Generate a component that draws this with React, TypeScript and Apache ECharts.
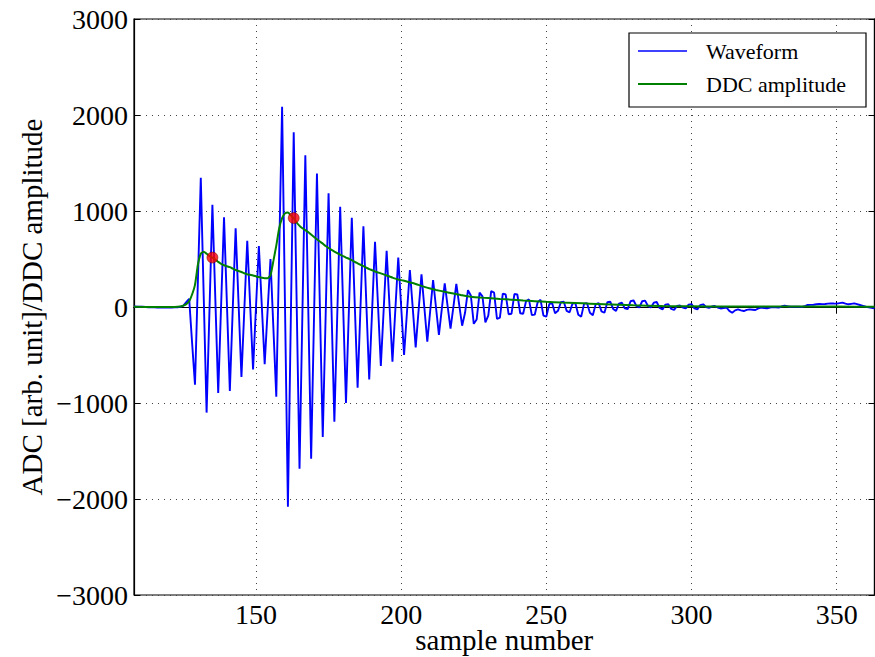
import React, { useEffect, useRef } from "react";
import * as echarts from "echarts";

const START_SAMPLE = 108;
// Waveform: one value per sample, starting at sample 108
const waveformValues: number[] = [
  5, 4, 3, 2, 0, -2, -3, -4, -5, -6, -6, -6, -5, -5, -4, -2, 2, // 108-124
  15, 50, 85, -370, -810, 270, 1345, 120, -1100, -20, // 125-134
  1065, 90, -895, 20, 935, 30, -875, -25, 820, 45, // 135-144
  -730, -20, 690, 20, -650, -5, 635, 20, -595, -45, // 145-154
  500, -220, -935, 575, 2085, 5, -2080, -130, 1820, 70, // 155-164
  -1685, -50, 1580, 0, -1580, -95, 1390, 20, -1355, -85, // 165-174
  1185, -5, -1195, -75, 1045, 25, -1000, -35, 930, 45, // 175-184
  -840, 0, 840, 40, -755, -35, 680, 35, -615, -15, // 185-194
  585, 5, -570, -25, 515, 5, -500, -55, 385, -15, // 195-204
  -420, -35, 340, -10, -360, -40, 280, -5, -290, -20, // 205-214
  245, 10, -225, 5, 240, 20, -195, -60, 175, 120, // 215-224
  -175, -130, 150, 110, -160, -90, 165, 150, -125, -110, // 225-234
  140, 130, -75, -70, 135, 130, -65, -70, 60, 80, // 235-244
  -85, -80, 50, 75, -90, -100, 30, 40, -65, -40, // 245-254
  50, 55, -40, -55, 35, 40, -80, -100, 35, 40, // 255-264
  -60, -85, 30, 40, -45, -60, 50, 55, -20, -40, // 265-274
  35, 45, -15, -22, 60, 70, 10, -5, 60, 66, // 275-284
  10, -5, 45, 52, -10, -25, 25, 30, -20, -30, // 285-294
  10, 15, -5, -15, 25, 30, -15, -25, 20, 28, // 295-304
  0, -8, 5, 10, -5, -15, -12, -5, -40, -60, // 305-314
  -35, -25, -35, -42, -30, -25, -28, -31, -15, -7, // 315-324
  -10, -14, -5, 0, -3, -7, 5, 14, 8, 3, // 325-334
  3, 3, 2, 0, 10, 21, 22, 24, 28, 31, // 335-344
  30, 31, 35, 38, 36, 35, 40, 45, 35, 28, // 345-354
  33, 38, 30, 21, 12, 3, -3, -8, -14, // 355-363
];

const ddcSamples: number[] = [
  108, 115, 122, 124, 125, 126, 127, 128, 129, 130, 131, 132, 133, 134, 135, 136, 137, 138, 139, 140,
  141, 142, 143, 144, 145, 146, 147, 148, 149, 150, 151, 152, 153, 154, 155, 156, 157, 158, 159, 160,
  161, 162, 163, 164, 165, 166, 167, 168, 169, 170, 171, 172, 173, 174, 175, 176, 177, 178, 179, 180,
  181, 182, 183, 184, 185, 186, 187, 188, 189, 190, 191, 192, 193, 194, 195, 196, 197, 198, 199, 200,
  202, 204, 206, 208, 210, 212, 215, 218, 221, 224, 227, 230, 234, 238, 242, 246, 250, 255, 260, 265,
  270, 275, 280, 290, 300, 310, 320, 330, 340, 350, 363,
];
const ddcValues: number[] = [
  2, 0, 0, 5, 15, 30, 60, 130, 230, 440, 555, 575, 555, 530, 515, 495, 470, 450, 435, 425,
  415, 400, 385, 375, 365, 352, 342, 335, 328, 320, 312, 305, 300, 300, 330, 480, 640, 820, 925, 975,
  985, 955, 925, 880, 845, 820, 800, 780, 755, 730, 705, 682, 660, 635, 615, 595, 578, 560, 545, 530,
  515, 502, 488, 470, 455, 440, 425, 410, 395, 383, 370, 360, 350, 340, 328, 318, 306, 296, 287, 280,
  265, 250, 230, 210, 192, 178, 158, 140, 122, 107, 98, 93, 84, 76, 68, 61, 54, 47, 41, 35,
  29, 23, 17, 10, 7, 5, 5, 4, 4, 4, 2,
];

const markerSamples: number[] = [135, 163];
const markerValues: number[] = [515, 926];

const yTicks: number[] = [-3000, -2000, -1000, 0, 1000, 2000, 3000];

const SERIF = '"Liberation Serif", "DejaVu Serif", serif';

export default function App() {
  const ref = useRef<HTMLDivElement>(null);

  useEffect(() => {
    if (!ref.current) return;
    const chart = echarts.init(ref.current, null, { renderer: "svg" });
    const waveData = waveformValues.map((v, i) => [START_SAMPLE + i, v]);
    const ddcData = ddcSamples.map((s, i) => [s, ddcValues[i]]);
    const markerData = markerSamples.map((s, i) => [s, markerValues[i]]);
    const fmt = (v: number) => String(v).replace("-", "\u2212");

    const gridLine = { show: true, lineStyle: { color: "#444", type: [1, 5] as any, width: 1 } };
    const tick = { show: true, inside: true, length: 6, lineStyle: { color: "#000", width: 1 } };

    chart.setOption({
      animation: false,
      backgroundColor: "#fff",
      grid: {
        left: 134,
        right: 0.5,
        top: 19,
        bottom: 62,
        containLabel: false,
        outerBoundsMode: "none",
        show: true,
        borderColor: "#000",
        borderWidth: 1.2,
        backgroundColor: "transparent",
      },
      xAxis: [
        {
          type: "value",
          min: 108,
          max: 363,
          splitNumber: 5,
          position: "bottom",
          name: "sample number",
          nameLocation: "middle",
          nameGap: 30,
          nameMoveOverlap: false,
          nameTextStyle: { fontFamily: SERIF, fontSize: 29, lineHeight: 29, color: "#000" },
          axisLine: { show: true, lineStyle: { color: "#000", width: 1.2 } },
          axisTick: tick,
          axisLabel: {
            fontFamily: SERIF,
            fontSize: 28,
            lineHeight: 22,
            color: "#000",
            margin: 8,
            showMinLabel: false,
            showMaxLabel: false,
            formatter: (v: number) => (v % 50 === 0 ? fmt(v) : ""),
          },
          splitLine: gridLine,
        },
        {
          type: "value",
          min: 108,
          max: 363,
          splitNumber: 5,
          position: "top",
          axisLine: { show: true, lineStyle: { color: "#000", width: 1.2 } },
          axisTick: tick,
          axisLabel: { show: false },
          splitLine: { show: false },
        },
      ],
      yAxis: [
        {
          type: "value",
          min: yTicks[0],
          max: yTicks[yTicks.length - 1],
          interval: 1000,
          position: "left",
          name: "ADC [arb. unit]/DDC amplitude",
          nameLocation: "middle",
          nameGap: 88,
          nameMoveOverlap: false,
          nameTextStyle: { fontFamily: SERIF, fontSize: 29, color: "#000" },
          axisLine: { show: true, lineStyle: { color: "#000", width: 1.2 } },
          axisTick: tick,
          axisLabel: { fontFamily: SERIF, fontSize: 28, color: "#000", margin: 6, formatter: fmt },
          splitLine: gridLine,
        },
        {
          type: "value",
          min: yTicks[0],
          max: yTicks[yTicks.length - 1],
          interval: 1000,
          position: "right",
          axisLine: { show: true, lineStyle: { color: "#000", width: 1.2 } },
          axisTick: tick,
          axisLabel: { show: false },
          splitLine: { show: false },
        },
      ],
      series: [
        {
          name: "Waveform",
          type: "line",
          data: waveData,
          showSymbol: false,
          symbol: "none",
          lineStyle: { color: "#0000ff", width: 1.9 },
          z: 2,
        },
        {
          name: "DDC amplitude",
          type: "line",
          data: ddcData,
          showSymbol: false,
          symbol: "none",
          smooth: 0.2,
          lineStyle: { color: "#008000", width: 2 },
          z: 3,
        },
        {
          name: "markers",
          type: "scatter",
          data: markerData,
          symbolSize: 11,
          itemStyle: { color: "#ff0000", borderColor: "#600000", borderWidth: 0.6 },
          z: 4,
        },
      ],
      graphic: [
        {
          type: "rect",
          shape: { x: 629, y: 33, width: 237, height: 74 },
          style: { fill: "#fff", stroke: "#000", lineWidth: 1.2 },
          z: 100,
        },
        {
          type: "line",
          shape: { x1: 638, y1: 51, x2: 687, y2: 51 },
          style: { stroke: "#0000ff", lineWidth: 1.6 },
          z: 101,
        },
        {
          type: "line",
          shape: { x1: 638, y1: 84, x2: 687, y2: 84 },
          style: { stroke: "#008000", lineWidth: 2 },
          z: 101,
        },
        {
          type: "text",
          x: 706,
          y: 51,
          style: { text: "Waveform", font: `22px ${SERIF}`, fill: "#000", textVerticalAlign: "middle" },
          z: 101,
        },
        {
          type: "text",
          x: 706,
          y: 84,
          style: { text: "DDC amplitude", font: `22px ${SERIF}`, fill: "#000", textVerticalAlign: "middle" },
          z: 101,
        },
      ],
    });
    return () => chart.dispose();
  }, []);

  return (
    <div
      ref={ref}
      style={{ position: "fixed", left: 0, top: 0, width: 875, height: 657, background: "#fff" }}
    />
  );
}
